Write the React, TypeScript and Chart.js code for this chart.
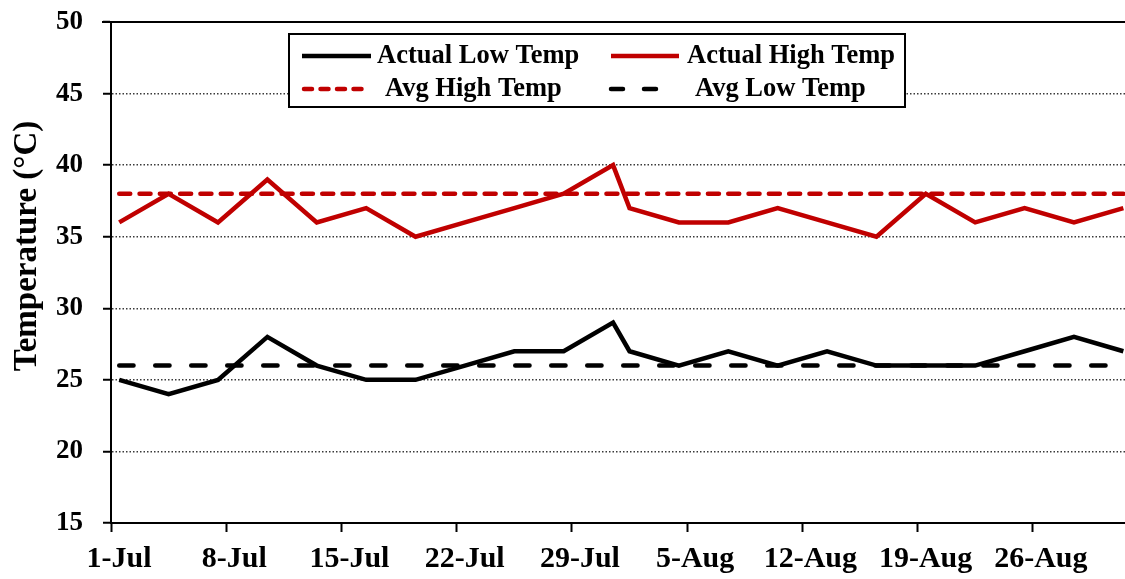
import React, { useEffect, useRef } from 'react';
import { Chart, registerables } from 'chart.js';

Chart.register(...registerables);

// ---- data ----
const dates = ['1-Jul', '4-Jul', '7-Jul', '10-Jul', '13-Jul', '16-Jul', '19-Jul', '22-Jul', '25-Jul', '28-Jul', '31-Jul',
  '1-Aug', '4-Aug', '7-Aug', '10-Aug', '13-Aug', '16-Aug', '19-Aug', '22-Aug', '25-Aug', '28-Aug', '31-Aug'];
const actualLow = [25, 24, 25, 28, 26, 25, 25, 26, 27, 27, 29, 27, 26, 27, 26, 27, 26, 26, 26, 27, 28, 27];
const actualHigh = [36, 38, 36, 39, 36, 37, 35, 36, 37, 38, 40, 37, 36, 36, 37, 36, 35, 38, 36, 37, 36, 37];
const avgHigh = [38, 38, 38, 38, 38, 38, 38, 38, 38, 38, 38, 38, 38, 38, 38, 38, 38, 38, 38, 38, 38, 38];
const avgLow = [26, 26, 26, 26, 26, 26, 26, 26, 26, 26, 26, 26, 26, 26, 26, 26, 26, 26, 26, 26, 26, 26];
const tickLabels = ['1-Jul', '8-Jul', '15-Jul', '22-Jul', '29-Jul', '5-Aug', '12-Aug', '19-Aug', '26-Aug'];
const yTicks = [15, 20, 25, 30, 35, 40, 45, 50];
const yTitle = 'Temperature (°C)';

const MONTH_START: Record<string, number> = { Jul: 0, Aug: 31 };
const toDay = (s: string) => {
  const [d, m] = s.split('-');
  return MONTH_START[m] + Number(d) - 1;
};
// Excel date axis: a date is plotted in the middle of its day slot
const pts = (vals: number[]) => vals.map((v, i) => ({ x: toDay(dates[i]) + 0.5, y: v }));

const FAMILY = '"Liberation Serif", "Times New Roman", serif';
const RED = '#C00000';

// legend layout (2 x 2, as in the reference)
const legendSlots = [
  { sx: 302, sw: 69, tx: 377, y: 56 },
  { sx: 611, sw: 68, tx: 687, y: 56 },
  { sx: 304, sw: 65, tx: 385, y: 89 },
  { sx: 611, sw: 52, tx: 695, y: 89 },
];
const legendDash: number[][] = [[], [], [8, 8.5], [12, 21]];

const framePlugin = {
  id: 'framePlugin',
  afterDraw(chart: any) {
    const { ctx, chartArea } = chart;
    ctx.save();
    // top frame line at 50
    ctx.strokeStyle = '#000';
    ctx.lineWidth = 2;
    ctx.beginPath();
    ctx.moveTo(chartArea.left - 9, chartArea.top);
    ctx.lineTo(chartArea.right, chartArea.top);
    ctx.stroke();

    // y title
    ctx.save();
    ctx.translate(27.5, 246);
    ctx.rotate(-Math.PI / 2);
    ctx.fillStyle = '#000';
    ctx.font = `bold 33px ${FAMILY}`;
    ctx.textAlign = 'center';
    ctx.textBaseline = 'middle';
    ctx.fillText(yTitle, 0, 0);
    ctx.restore();

    // legend box
    ctx.fillStyle = '#fff';
    ctx.fillRect(289, 34, 616, 73);
    ctx.strokeStyle = '#000';
    ctx.lineWidth = 2;
    ctx.strokeRect(289, 34, 616, 73);

    chart.data.datasets.forEach((ds: any, i: number) => {
      const s = legendSlots[i];
      ctx.save();
      ctx.strokeStyle = ds.borderColor;
      ctx.lineWidth = i < 2 ? 4.5 : 4.5;
      ctx.lineCap = i < 2 ? 'butt' : 'round';
      ctx.setLineDash(legendDash[i]);
      ctx.beginPath();
      ctx.moveTo(s.sx, s.y);
      ctx.lineTo(s.sx + s.sw, s.y);
      ctx.stroke();
      ctx.restore();
      ctx.fillStyle = '#000';
      ctx.font = `bold 26.5px ${FAMILY}`;
      ctx.textAlign = 'left';
      ctx.textBaseline = 'middle';
      ctx.fillText(ds.label, s.tx, s.y);
    });
    ctx.restore();
  },
};

export default function App() {
  const ref = useRef<HTMLCanvasElement>(null);

  useEffect(() => {
    const canvas = ref.current;
    if (!canvas) return;
    const tickDays = tickLabels.map(toDay);
    const chart = new Chart(canvas, {
      type: 'line',
      data: {
        datasets: [
          { label: 'Actual Low Temp', data: pts(actualLow), borderColor: '#000', backgroundColor: '#000', borderWidth: 4.5, pointRadius: 0, tension: 0, borderJoinStyle: 'miter' },
          { label: 'Actual High Temp', data: pts(actualHigh), borderColor: RED, backgroundColor: RED, borderWidth: 4.5, pointRadius: 0, tension: 0, borderJoinStyle: 'miter' },
          { label: 'Avg High Temp', data: pts(avgHigh), borderColor: RED, backgroundColor: RED, borderWidth: 4.5, pointRadius: 0, borderDash: [11, 9.3], borderCapStyle: 'round' },
          { label: 'Avg Low Temp', data: pts(avgLow), borderColor: '#000', backgroundColor: '#000', borderWidth: 4.5, pointRadius: 0, borderDash: [14.3, 21.7], borderCapStyle: 'round' },
        ] as any,
      },
      options: {
        responsive: false,
        animation: false,
        layout: { padding: { top: 22, left: 0, right: 0, bottom: 0 } },
        plugins: { legend: { display: false }, tooltip: { enabled: false } },
        scales: {
          x: {
            type: 'linear',
            min: 0,
            max: 61.6,
            afterBuildTicks: (s: any) => { s.ticks = tickDays.map((v) => ({ value: v })); },
            afterFit: (s: any) => { s.height = 56; s.paddingLeft = 0; s.paddingRight = 0; },
            ticks: {
              callback: (_v: any, i: number) => tickLabels[i],
              font: { family: FAMILY, size: 30, weight: 'bold' },
              color: '#000',
              labelOffset: 8,
              padding: 9,
              maxRotation: 0,
              autoSkip: false,
            },
            grid: { drawOnChartArea: false, tickLength: 9, tickColor: '#000', tickWidth: 2 },
            border: { color: '#000', width: 2 },
          },
          y: {
            min: 15,
            max: 50,
            afterBuildTicks: (s: any) => { s.ticks = yTicks.map((v) => ({ value: v })); },
            afterFit: (s: any) => { s.width = 111; s.paddingTop = 0; s.paddingBottom = 0; },
            ticks: {
              font: { family: FAMILY, size: 27, weight: 'bold' },
              color: '#000',
              padding: 20,
            },
            grid: {
              color: (c: any) => (c.tick && (c.tick.value === 15 || c.tick.value === 50) ? 'rgba(0,0,0,0)' : '#3a3a3a'),
              lineWidth: 1.5,
              tickLength: 8,
              tickColor: '#000',
              tickWidth: 2,
            },
            border: { color: '#000', width: 2, dash: [1.5, 2] },
          },
        },
      } as any,
      plugins: [framePlugin],
    });
    return () => chart.destroy();
  }, []);

  return (
    <div style={{ position: 'absolute', left: 0, top: 0, width: 1125, height: 579, background: '#fff' }}>
      <canvas ref={ref} width={1125} height={579} style={{ display: 'block' }} />
    </div>
  );
}
